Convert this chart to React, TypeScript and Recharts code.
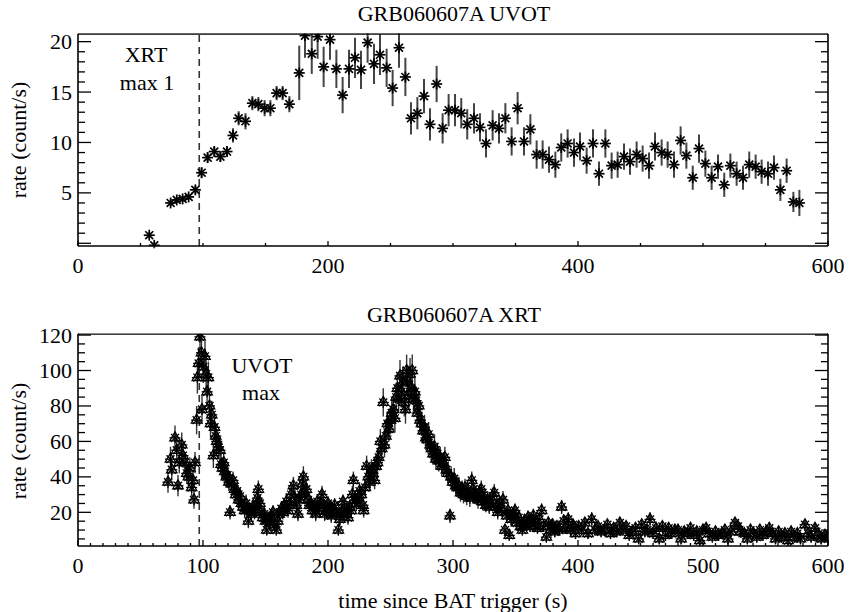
import React from "react";
import { ScatterChart, Scatter, XAxis, YAxis, ErrorBar, ReferenceLine } from "recharts";

// UVOT light curve: [time since trigger (s), rate (count/s), error]
const uvotPoints: [number, number, number][] = [
  [57, 0.8, 0.3], [61, -0.2, 0.3], [74.1, 4.0, 0.3], [79, 4.3, 0.3], [83.7, 4.4, 0.3],
  [88.5, 4.6, 0.3], [93.9, 5.3, 0.4], [98.9, 7.0, 0.5], [103.7, 8.5, 0.5], [109, 9.1, 0.5],
  [113.9, 8.6, 0.5], [119.2, 9.1, 0.5], [124, 10.7, 0.7], [128.5, 12.4, 0.7], [134, 12.1, 0.8],
  [139.5, 13.9, 0.7], [144.3, 13.8, 0.7], [149.3, 13.4, 0.8], [153.9, 13.4, 0.8], [158.9, 14.9, 0.7],
  [163.7, 14.9, 0.7], [169.1, 13.8, 0.8], [177, 16.9, 2.7], [181.6, 20.6, 2.2], [187, 18.8, 2.0],
  [191.7, 20.5, 2.2], [196.5, 17.5, 2.0], [201.6, 20.2, 2.0], [206.7, 17.3, 1.9], [211.7, 14.7, 1.8],
  [216.8, 17.3, 1.9], [221.6, 18.4, 2.0], [226.4, 17.2, 1.9], [231.7, 19.9, 2.0], [236.8, 17.8, 2.0],
  [241.6, 18.7, 2.0], [246.9, 17.4, 1.9], [251.7, 15.4, 1.8], [256.8, 19.4, 2.0], [261.9, 16.5, 1.9],
  [266.4, 12.4, 1.6], [271.5, 12.9, 1.6], [276.8, 14.6, 1.7], [281.6, 11.8, 1.6], [286.9, 15.8, 1.8],
  [291.7, 11.4, 1.5], [296.5, 13.2, 1.6], [301.6, 13.2, 1.6], [306.6, 12.9, 1.5], [311.4, 11.8, 1.5],
  [316.8, 12.4, 1.5], [321.6, 11.5, 1.4], [326.4, 9.9, 1.4], [331.7, 11.7, 1.5], [336.8, 11.4, 1.5],
  [341.9, 12.4, 1.5], [346.9, 10.1, 1.4], [351.7, 13.4, 1.6], [356.8, 10.1, 1.4], [361.9, 11.3, 1.5],
  [366.9, 8.8, 1.4], [371.7, 8.8, 1.4], [376.8, 8.3, 1.3], [381.9, 7.8, 1.3], [386.6, 9.5, 1.4],
  [391.7, 9.9, 1.4], [396.8, 9.0, 1.4], [401.6, 9.6, 1.4], [406.9, 8.2, 1.3], [412, 9.9, 1.4],
  [416.8, 6.9, 1.2], [421.9, 9.9, 1.4], [426.9, 7.7, 1.3], [431.7, 7.8, 1.3], [436.8, 8.6, 1.3],
  [441.6, 8.1, 1.3], [446.9, 8.8, 1.3], [451.7, 8.4, 1.3], [456.8, 7.7, 1.3], [461.6, 9.6, 1.4],
  [466.9, 9.0, 1.3], [471.7, 8.8, 1.3], [476.8, 7.8, 1.3], [482.1, 10.2, 1.4], [486.7, 8.7, 1.3],
  [491.8, 6.5, 1.2], [496.8, 9.4, 1.4], [501.9, 7.9, 1.3], [506.9, 6.5, 1.2], [512, 7.6, 1.2],
  [517, 5.8, 1.2], [521.9, 7.7, 1.2], [526.9, 6.9, 1.2], [532, 6.5, 1.2], [537, 7.8, 1.3],
  [542.1, 7.6, 1.2], [546.9, 7.1, 1.2], [552, 6.9, 1.2], [556.8, 7.5, 1.2], [561.9, 5.3, 1.1],
  [566.9, 7.2, 1.2], [572.3, 4.1, 1.0], [577.1, 4.0, 1.3],
];

// XRT light curve: [time since trigger (s), rate (count/s), error]
const xrtPoints: [number, number, number][] = [
  [72, 37, 6], [74, 50, 7], [75, 44, 6], [77.6, 62, 7], [79, 55, 7], [80, 35, 6], [81, 48, 6],
  [83, 58, 7], [84, 52, 7], [85.6, 48, 6], [87, 42, 6], [88.3, 40, 6], [89.5, 45, 6], [90.9, 34, 5],
  [92, 38, 6], [92.8, 27, 5], [93.6, 48, 6], [94.9, 72, 8], [95.5, 96, 9], [96.5, 104, 9],
  [97.6, 119, 10], [98.8, 110, 9], [99.2, 78, 8], [100.2, 102, 9], [101.6, 108, 9], [102.5, 98, 9],
  [103.3, 88, 8], [104.3, 96, 9], [105.2, 80, 8], [106, 70, 8], [107, 75, 8], [108.3, 52, 7],
  [109.2, 68, 7], [110.2, 63, 7], [111, 60, 7], [112.3, 57, 7], [113.6, 55, 7], [114.5, 47, 6],
  [115.5, 45, 6], [116.6, 48, 6], [117.5, 43, 6], [118.6, 40, 6], [119.6, 41, 6], [120.7, 37, 5],
  [121.6, 20, 4], [122.8, 36, 5], [124, 38, 5], [125.2, 33, 5], [126.2, 30, 5], [127.3, 32, 5],
  [128.5, 27, 5], [129.7, 29, 5], [130.8, 25, 5], [132, 23, 4], [133.3, 21, 4], [134.5, 25, 5],
  [135.5, 22, 4], [136.3, 15, 4], [137.5, 21, 4], [138.7, 19, 4], [140, 23, 4], [141.2, 20, 4],
  [142.4, 24, 4], [143.5, 28, 5], [144.3, 33, 5], [145.5, 25, 5], [146.6, 20, 4], [147.8, 17, 4],
  [149, 19, 4], [150, 15, 4], [151, 10, 3], [152.3, 16, 4], [153.5, 14, 4], [154.7, 17, 4],
  [156, 20, 4], [157.2, 13, 4], [158.7, 10, 3], [159.8, 15, 4], [161, 19, 4], [162.7, 22, 4],
  [163.8, 20, 4], [165, 23, 4], [166.7, 26, 5], [168, 21, 4], [169.3, 24, 4], [170.5, 30, 5],
  [172.3, 35, 5], [173.5, 28, 5], [174.7, 24, 4], [176, 19, 4], [177.2, 27, 5], [178.4, 30, 5],
  [179.5, 36, 5], [180.3, 40, 6], [181.5, 31, 5], [182.7, 33, 5], [184, 27, 5], [185.2, 24, 4],
  [186.5, 25, 4], [187.6, 21, 4], [189, 23, 4], [190.2, 19, 4], [191.5, 26, 4], [192.8, 22, 4],
  [194, 25, 4], [195.2, 30, 5], [196.4, 24, 4], [197.3, 19, 4], [198.6, 21, 4], [200, 25, 4],
  [201.3, 22, 4], [202.6, 18, 4], [204, 21, 4], [205.3, 24, 4], [206.6, 19, 4], [208.3, 10, 3],
  [209.5, 16, 4], [210.7, 20, 4], [212, 26, 4], [213.3, 22, 4], [214.6, 19, 4], [216, 17, 4],
  [217.3, 23, 4], [218.6, 21, 4], [219.5, 30, 5], [220.3, 38, 5], [221.5, 27, 5], [222.8, 25, 4],
  [224, 28, 5], [225.2, 32, 5], [226.6, 30, 5], [228, 24, 4], [228.5, 21, 4], [229.8, 34, 5],
  [230.9, 46, 6], [232.2, 40, 6], [233.5, 37, 5], [234.8, 44, 6], [236, 42, 6], [237.3, 38, 5],
  [238.5, 46, 6], [239.6, 48, 6], [240.5, 51, 6], [241.9, 60, 7], [243, 56, 7], [244.2, 82, 8],
  [245.2, 58, 7], [246.3, 63, 7], [247.5, 70, 7], [248.7, 67, 7], [250, 72, 8], [251, 76, 8],
  [252.2, 78, 8], [253.5, 73, 8], [254.5, 85, 8], [255.5, 90, 9], [256.5, 84, 8], [257.6, 97, 9],
  [258.7, 88, 9], [259.8, 93, 9], [261, 82, 8], [262, 78, 8], [262.9, 100, 9], [263.8, 94, 9],
  [264.7, 86, 8], [265.6, 98, 9], [266.5, 90, 9], [267.4, 100, 9], [268.4, 84, 8], [269.5, 88, 9],
  [270.5, 83, 8], [271.5, 76, 8], [272.6, 80, 8], [273.6, 72, 8], [274.8, 70, 7], [276, 66, 7],
  [277.2, 68, 7], [278.3, 62, 7], [279.4, 61, 7], [280.5, 64, 7], [281.7, 58, 7], [282.8, 56, 7],
  [284, 53, 6], [285.2, 57, 7], [286.3, 50, 6], [287.5, 53, 6], [288.7, 49, 6], [289.8, 51, 6],
  [291, 46, 6], [292.3, 48, 6], [293.5, 51, 6], [294.7, 44, 6], [296, 42, 6], [297.6, 18, 4],
  [298.5, 40, 6], [299.7, 37, 5], [301, 39, 6], [302.2, 35, 5], [303.4, 34, 5], [304.6, 35, 5],
  [306, 31, 5], [307.2, 33, 5], [308.4, 30, 5], [309.6, 34, 5], [311, 29, 5], [312.3, 31, 5],
  [313.5, 28, 5], [315, 38, 5], [316.2, 33, 5], [317.5, 30, 5], [318.7, 29, 5], [320, 27, 5],
  [321.3, 31, 5], [322.6, 33, 5], [323.8, 26, 5], [325, 28, 5], [326.3, 24, 4], [327.6, 27, 5],
  [329, 23, 4], [330.3, 25, 4], [331.6, 29, 5], [333, 31, 5], [334.4, 23, 4], [335.8, 20, 4],
  [337.2, 25, 4], [338.6, 22, 4], [340, 27, 5], [341.6, 10, 3], [343, 18, 4], [344, 21, 4],
  [345, 7, 3], [346.5, 16, 4], [348, 19, 4], [349.6, 21, 4], [351, 14, 4], [352.5, 17, 4],
  [354, 12, 3], [355.5, 10, 3], [357, 15, 4], [358.6, 13, 3], [360, 17, 4], [361.6, 12, 3],
  [363, 15, 4], [364.3, 18, 4], [366, 14, 4], [367.6, 11, 3], [369.2, 16, 4], [370.9, 21, 4],
  [372.5, 12, 3], [374.7, 6, 3], [376.3, 14, 4], [378, 10, 3], [379.7, 13, 3], [381.4, 9, 3],
  [383.2, 12, 3], [385, 10, 3], [386.9, 23, 4], [388.5, 15, 4], [390.3, 11, 3], [392.2, 16, 4],
  [394, 10, 3], [396, 13, 3], [398, 8, 3], [400.5, 12, 3], [403, 10, 3], [405.5, 14, 3],
  [408, 8, 3], [411, 16, 4], [413.5, 10, 3], [416, 12, 3], [418.5, 9, 3], [421, 10, 3],
  [423.5, 13, 3], [426, 8, 3], [428.5, 11, 3], [431, 9, 3], [433.5, 14, 3], [436, 10, 3],
  [438.5, 12, 3], [441, 7, 3], [443.5, 9, 3], [446, 11, 3], [448.5, 5, 3], [451, 13, 3],
  [453.5, 9, 3], [455.5, 10, 3], [457.6, 16, 4], [460, 8, 3], [462.5, 11, 3], [465, 5, 3],
  [467.5, 12, 3], [470, 7, 3], [472.5, 11, 3], [475, 8, 3], [477.5, 10, 3], [480, 10, 3],
  [482.5, 5, 3], [485, 9, 3], [487.5, 8, 3], [490, 11, 3], [492.5, 7, 3], [495, 9, 3],
  [497.5, 4, 3], [500, 10, 3], [502.5, 11, 3], [505, 8, 3], [507.5, 6, 3], [510, 9, 3],
  [512.5, 7, 3], [515, 8, 3], [517.5, 10, 3], [520, 5, 3], [522.5, 9, 3], [525.6, 14, 3],
  [528, 12, 3], [530.5, 9, 3], [533, 8, 3], [535.5, 5, 3], [538, 10, 3], [540.5, 8, 3],
  [543, 6, 3], [545.5, 10, 3], [548, 7, 3], [550.5, 9, 3], [553, 11, 3], [555.5, 8, 3],
  [558, 5, 3], [560.5, 9, 3], [563, 6, 3], [565.5, 8, 3], [568, 4, 3], [570.5, 9, 3],
  [573, 6, 3], [575.5, 8, 3], [578, 5, 3], [581.6, 13, 3], [584, 8, 3], [586.5, 6, 3],
  [589.6, 11, 3], [592, 7, 3], [594.5, 5, 3], [597.6, 7, 3], [599.5, 6, 3],
];

const uvotXLabels = [0, 200, 400, 600];
const uvotYLabels = [5, 10, 15, 20];
const xrtXLabels = [0, 100, 200, 300, 400, 500, 600];
const xrtYLabels = [20, 40, 60, 80, 100, 120];

// time of the other instrument's peak (dashed line)
const markerTime = 97;

const FONT = "'Liberation Serif', 'Times New Roman', serif";

const range = (a: number, b: number, step: number) => {
  const out: number[] = [];
  for (let v = a; v <= b + 1e-9; v += step) out.push(Math.round(v * 100) / 100);
  return out;
};

type Side = "bottom" | "top" | "left" | "right";

function tickRenderer(side: Side, majors: number[], labels: number[], majorLen: number, minorLen: number) {
  return (props: any) => {
    const { x, y, payload } = props;
    const v = payload.value;
    const len = majors.includes(v) ? majorLen : minorLen;
    const d =
      side === "bottom" ? [0, -len] : side === "top" ? [0, len] : side === "left" ? [len, 0] : [-len, 0];
    const show = labels.includes(v);
    return (
      <g>
        <line x1={x} y1={y} x2={x + d[0]} y2={y + d[1]} stroke="#000" strokeWidth={1.3} />
        {show && side === "bottom" && (
          <text x={x} y={y + 19} textAnchor="middle" dominantBaseline="central" fontSize={22} fontFamily={FONT} fill="#000">
            {v}
          </text>
        )}
        {show && side === "left" && (
          <text x={x - 6} y={y} textAnchor="end" dominantBaseline="central" fontSize={22} fontFamily={FONT} fill="#000">
            {v}
          </text>
        )}
      </g>
    );
  };
}

const Asterisk = ({ cx, cy, r = 5.5, sw = 1.7 }: any) => {
  if (cx == null || cy == null) return null;
  const d = r * 0.72;
  return (
    <g stroke="#000" strokeWidth={sw}>
      <line x1={cx - r} y1={cy} x2={cx + r} y2={cy} />
      <line x1={cx} y1={cy - r} x2={cx} y2={cy + r} />
      <line x1={cx - d} y1={cy - d} x2={cx + d} y2={cy + d} />
      <line x1={cx - d} y1={cy + d} x2={cx + d} y2={cy - d} />
    </g>
  );
};

const TriStar = (props: any) => {
  const { cx, cy } = props;
  if (cx == null || cy == null) return null;
  const r = 6;
  return (
    <g>
      <polygon
        points={`${cx},${cy - r} ${cx + r * 0.87},${cy + r * 0.5} ${cx - r * 0.87},${cy + r * 0.5}`}
        fill="none"
        stroke="#000"
        strokeWidth={1.3}
      />
      <Asterisk cx={cx} cy={cy} r={5.5} sw={1.3} />
    </g>
  );
};

const axisStyle = { stroke: "#000", strokeWidth: 1.6 };

interface PanelProps {
  data: { x: number; y: number; err: number }[];
  height: number;
  yDomain: [number, number];
  xTicks: number[];
  xMajors: number[];
  xLabels: number[];
  yTicks: number[];
  yMajors: number[];
  yLabels: number[];
  xMajorLen: number;
  shape: any;
  errColor: string;
  errWidth: number;
}

function Panel(p: PanelProps) {
  const common = { tickSize: 0, tickMargin: 0, tickLine: false, axisLine: axisStyle, allowDataOverflow: true, interval: 0 as const };
  // axes are 1px thick so they still render; margins compensate
  return (
    <ScatterChart width={850} height={p.height} margin={{ top: 33, right: 21, bottom: p.height - 247, left: 77 }}>
      <XAxis
        xAxisId="b"
        dataKey="x"
        type="number"
        domain={[0, 600]}
        ticks={p.xTicks}
        height={1}
        tick={tickRenderer("bottom", p.xMajors, p.xLabels, p.xMajorLen, 3)}
        {...common}
      />
      <XAxis
        xAxisId="t"
        orientation="top"
        type="number"
        domain={[0, 600]}
        ticks={p.xTicks}
        height={1}
        tick={tickRenderer("top", p.xMajors, [], p.xMajorLen, 3)}
        {...common}
      />
      <YAxis
        yAxisId="l"
        dataKey="y"
        type="number"
        domain={p.yDomain}
        ticks={p.yTicks}
        width={1}
        tick={tickRenderer("left", p.yMajors, p.yLabels, 13, 7)}
        {...common}
      />
      <YAxis
        yAxisId="r"
        orientation="right"
        type="number"
        domain={p.yDomain}
        ticks={p.yTicks}
        width={1}
        tick={tickRenderer("right", p.yMajors, [], 13, 7)}
        {...common}
      />
      <ReferenceLine xAxisId="b" yAxisId="l" x={markerTime} stroke="#333" strokeWidth={1.6} strokeDasharray="7 5" />
      <Scatter xAxisId="b" yAxisId="l" data={p.data} dataKey="y" isAnimationActive={false} shape={p.shape}>
        <ErrorBar dataKey="err" direction="y" width={0} stroke={p.errColor} strokeWidth={p.errWidth} />
      </Scatter>
    </ScatterChart>
  );
}

export default function App() {
  const uvotData = uvotPoints.map(([x, y, err]) => ({ x, y, err }));
  const xrtData = xrtPoints.map(([x, y, err]) => ({ x, y, err }));
  const textStyle = { fontFamily: FONT, fontSize: 22, fill: "#000" };

  return (
    <div style={{ position: "absolute", left: 0, top: 0, width: 850, height: 612, background: "#fff" }}>
      <div style={{ position: "absolute", left: 0, top: 0 }}>
        <Panel
          data={uvotData}
          height={300}
          yDomain={[-0.27, 20.76]}
          xTicks={range(0, 600, 50)}
          xMajors={uvotXLabels}
          xLabels={uvotXLabels}
          yTicks={range(0, 20, 1)}
          yMajors={[0, 5, 10, 15, 20]}
          yLabels={uvotYLabels}
          xMajorLen={5}
          shape={(s: any) => <Asterisk cx={s.cx} cy={s.cy} />}
          errColor="#444"
          errWidth={2}
        />
      </div>
      <div style={{ position: "absolute", left: 0, top: 300 }}>
        <Panel
          data={xrtData}
          height={312}
          yDomain={[1, 120.6]}
          xTicks={range(0, 600, 10)}
          xMajors={xrtXLabels}
          xLabels={xrtXLabels}
          yTicks={range(5, 120, 5)}
          yMajors={xrtYLabels}
          yLabels={xrtYLabels}
          xMajorLen={6}
          shape={(s: any) => <TriStar cx={s.cx} cy={s.cy} />}
          errColor="#333"
          errWidth={1.4}
        />
      </div>
      <svg width={850} height={612} style={{ position: "absolute", left: 0, top: 0, pointerEvents: "none" }}>
        {/* hide marks that overflow above the upper frames */}
        <rect x={79} y={0} width={748} height={33.2} fill="#fff" />
        <rect x={79} y={300} width={748} height={33.4} fill="#fff" />
        <text x={454} y={13} textAnchor="middle" dominantBaseline="central" {...textStyle}>GRB060607A UVOT</text>
        <text x={454} y={314} textAnchor="middle" dominantBaseline="central" {...textStyle}>GRB060607A XRT</text>
        <text x={453} y={600} textAnchor="middle" dominantBaseline="central" {...textStyle}>time since BAT trigger (s)</text>
        <text transform="translate(18,140) rotate(-90)" textAnchor="middle" dominantBaseline="central" {...textStyle}>rate (count/s)</text>
        <text transform="translate(18,441) rotate(-90)" textAnchor="middle" dominantBaseline="central" {...textStyle}>rate (count/s)</text>
        <text x={146} y={62} textAnchor="middle" {...textStyle}>XRT</text>
        <text x={147} y={90} textAnchor="middle" {...textStyle}>max 1</text>
        <text x={262} y={373} textAnchor="middle" {...textStyle}>UVOT</text>
        <text x={261} y={400} textAnchor="middle" {...textStyle}>max</text>
      </svg>
    </div>
  );
}
